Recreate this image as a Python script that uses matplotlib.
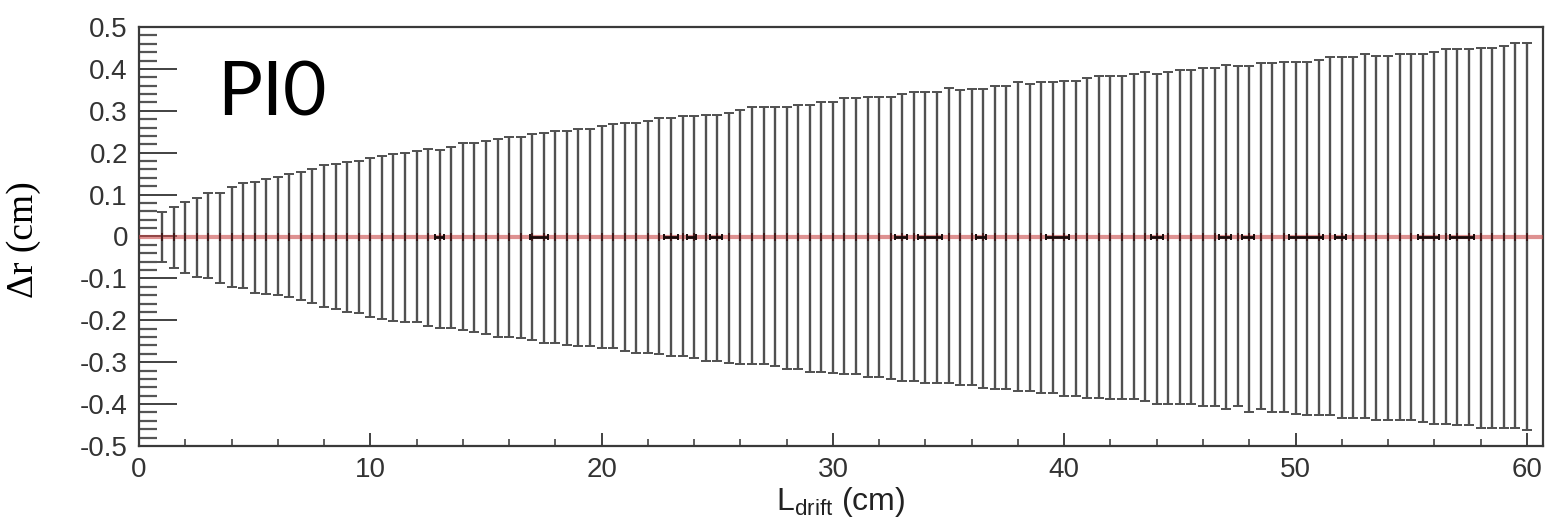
import matplotlib
matplotlib.use("Agg")
import matplotlib.pyplot as plt
import numpy as np
from matplotlib.ticker import MultipleLocator, FuncFormatter

plt.rcParams['font.family'] = ['Liberation Sans', 'DejaVu Sans']
plt.rcParams['axes.unicode_minus'] = False
plt.rcParams['mathtext.fontset'] = 'custom'
plt.rcParams['mathtext.rm'] = 'Liberation Sans'

# drift length bins (cm), 0.5 cm apart
l_drift = np.arange(1.0, 60.01, 0.5)

# upper / lower end of the delta-r band (cm)
dr_high = [0.059, 0.071, 0.082, 0.091, 0.103, 0.105, 0.117, 0.127, 0.131, 0.137,
           0.143, 0.149, 0.153, 0.161, 0.170, 0.173, 0.177, 0.181, 0.187, 0.192,
           0.197, 0.200, 0.205, 0.208, 0.206, 0.213, 0.224, 0.224, 0.228, 0.232,
           0.237, 0.237, 0.244, 0.248, 0.252, 0.252, 0.256, 0.256, 0.264, 0.268,
           0.270, 0.270, 0.276, 0.282, 0.282, 0.288, 0.288, 0.290, 0.290, 0.295,
           0.302, 0.308, 0.308, 0.308, 0.310, 0.315, 0.315, 0.322, 0.322, 0.330,
           0.330, 0.334, 0.334, 0.334, 0.340, 0.346, 0.346, 0.346, 0.354, 0.350,
           0.352, 0.352, 0.359, 0.359, 0.369, 0.364, 0.369, 0.369, 0.372, 0.372,
           0.378, 0.384, 0.384, 0.384, 0.389, 0.393, 0.389, 0.393, 0.397, 0.397,
           0.403, 0.403, 0.409, 0.408, 0.408, 0.413, 0.413, 0.417, 0.417, 0.417,
           0.421, 0.428, 0.428, 0.428, 0.435, 0.431, 0.431, 0.435, 0.435, 0.435,
           0.441, 0.447, 0.447, 0.447, 0.450, 0.450, 0.454, 0.461, 0.461]
dr_low = [-0.060, -0.074, -0.086, -0.096, -0.100, -0.112, -0.120, -0.124, -0.134, -0.137,
          -0.140, -0.145, -0.152, -0.159, -0.168, -0.173, -0.179, -0.183, -0.191, -0.197,
          -0.202, -0.203, -0.203, -0.214, -0.219, -0.219, -0.223, -0.229, -0.233, -0.239,
          -0.239, -0.242, -0.247, -0.253, -0.253, -0.259, -0.261, -0.261, -0.265, -0.265,
          -0.273, -0.277, -0.277, -0.280, -0.285, -0.285, -0.291, -0.297, -0.297, -0.301,
          -0.304, -0.304, -0.305, -0.310, -0.316, -0.316, -0.323, -0.323, -0.325, -0.329,
          -0.329, -0.336, -0.336, -0.341, -0.345, -0.345, -0.349, -0.349, -0.349, -0.354,
          -0.354, -0.361, -0.364, -0.364, -0.369, -0.369, -0.374, -0.374, -0.380, -0.380,
          -0.385, -0.385, -0.388, -0.388, -0.388, -0.393, -0.400, -0.400, -0.400, -0.400,
          -0.404, -0.404, -0.412, -0.405, -0.418, -0.412, -0.418, -0.418, -0.424, -0.426,
          -0.426, -0.426, -0.432, -0.432, -0.432, -0.438, -0.438, -0.438, -0.438, -0.443,
          -0.447, -0.447, -0.450, -0.450, -0.456, -0.456, -0.456, -0.456, -0.463]
dr_mean = np.zeros(len(l_drift))

# points with a visible horizontal error (centre, half width) in cm
wide_x = [13.0, 17.3, 23.0, 23.9, 24.95, 32.95, 34.2, 36.4, 39.7, 44.0,
          46.95, 47.95, 50.45, 51.95, 55.75, 57.2]
wide_err = [0.2, 0.4, 0.3, 0.2, 0.25, 0.25, 0.5, 0.2, 0.5, 0.25,
            0.25, 0.25, 0.75, 0.25, 0.45, 0.5]

W, H = 1546, 519
fig = plt.figure(figsize=(W / 100, H / 100), dpi=100)
ax = fig.add_axes([139 / W, 1 - 446 / H, (1543 - 139) / W, (446 - 27) / H])

yerr = [dr_mean - np.array(dr_low), np.array(dr_high) - dr_mean]
ax.errorbar(l_drift, dr_mean, yerr=yerr, fmt='none', ecolor='#505050',
            elinewidth=1.7, capsize=3.5, capthick=1.4, zorder=2)

# zero line (fit)
ax.plot([0, 60.7], [0, 0], color='#c84848', lw=3.0, alpha=0.6, zorder=3)

ax.plot(l_drift, dr_mean, ls='none', marker='|', ms=6, mew=1.3,
        color='#3a1515', zorder=4)
ax.errorbar(wide_x, np.zeros(len(wide_x)), xerr=wide_err, fmt='none',
            ecolor='#1a0a0a', elinewidth=2, capsize=2.5, capthick=1.4, zorder=5)

ax.set_xlim(0, 60.7)
ax.set_ylim(-0.5, 0.5)

ax.xaxis.set_major_locator(MultipleLocator(10))
ax.xaxis.set_minor_locator(MultipleLocator(2))
ax.yaxis.set_major_locator(MultipleLocator(0.1))
ax.yaxis.set_minor_locator(MultipleLocator(0.02))
ax.yaxis.set_major_formatter(FuncFormatter(lambda v, p: f'{round(v, 1):g}'))

ax.tick_params(axis='y', which='major', direction='in', length=27, width=1.3,
               pad=8, labelsize=20, colors='#333333')
ax.tick_params(axis='y', which='minor', direction='in', length=13, width=1.6,
               color='#555555')
ax.tick_params(axis='x', which='major', direction='in', length=9.5, width=1.3,
               pad=8, labelsize=20, colors='#333333')
ax.tick_params(axis='x', which='minor', direction='in', length=4.8, width=1.2,
               color='#444444')
for s in ax.spines.values():
    s.set_linewidth(1.6)
    s.set_color('#3a3a3a')

fig.text(841 / W, 1 - 510 / H, r'L$_{\rm drift}$ (cm)', fontsize=23,
         color='#222222', ha='center', va='baseline')
fig.text(24 / W, 1 - 240 / H, 'Δr (cm)', rotation=90, fontsize=27,
         family=['Liberation Serif', 'DejaVu Serif'], ha='center', va='center')
fig.text(217 / W, 1 - 115 / H, 'PI0', fontsize=54, family=['Lato', 'DejaVu Sans'],
         ha='left', va='baseline', color='black')

fig.savefig('out.png', dpi=100)
